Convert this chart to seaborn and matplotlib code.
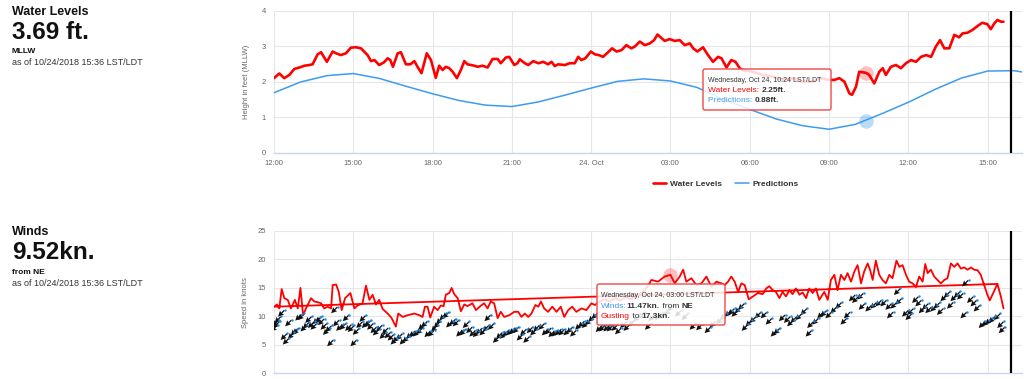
import numpy as np
import pandas as pd
import matplotlib
matplotlib.use("Agg")
import matplotlib.pyplot as plt
import seaborn as sns
from matplotlib import transforms
from matplotlib.patches import FancyBboxPatch

# ---------------- data (hours after 12:00, Oct 23) ----------------
tick_hours = [0, 3, 6, 9, 12, 15, 18, 21, 24, 27]
tick_labels = ["12:00", "15:00", "18:00", "21:00", "24. Oct",
               "03:00", "06:00", "09:00", "12:00", "15:00"]
now_hour = 27.88

level_hours = [0.0, 0.2, 0.39, 0.58, 0.77, 0.96, 1.15, 1.34, 1.46, 1.65, 1.78, 2.0, 2.22, 2.35,
               2.53, 2.72, 2.91, 3.1, 3.29, 3.54, 3.67, 3.8, 3.98, 4.17, 4.3, 4.4, 4.5, 4.68,
               4.8, 4.99, 5.16, 5.31, 5.43, 5.58, 5.78, 5.94, 6.12, 6.25, 6.38, 6.5, 6.63, 6.76,
               6.92, 7.07, 7.2, 7.32, 7.58, 7.7, 7.89, 8.08, 8.27, 8.46, 8.58, 8.77, 8.9, 9.09,
               9.21, 9.3, 9.49, 9.62, 9.81, 10.0, 10.19, 10.37, 10.5, 10.62, 10.75, 11.0, 11.19,
               11.38, 11.51, 11.63, 11.78, 11.99, 12.14, 12.29, 12.45, 12.64, 12.79, 12.96,
               13.15, 13.33, 13.52, 13.65, 13.84, 14.03, 14.22, 14.38, 14.51, 14.6, 14.78,
               14.97, 15.16, 15.35, 15.54, 15.73, 15.86, 16.02, 16.23, 16.42, 16.61, 16.8,
               16.93, 17.12, 17.3, 17.46, 17.62, 17.73, 18.11, 18.49, 18.87, 19.24, 19.62,
               20.0, 20.38, 20.63, 21.01, 21.2, 21.39, 21.58, 21.77, 21.87, 22.02, 22.14, 22.4,
               22.52, 22.71, 22.9, 23.03, 23.15, 23.34, 23.53, 23.72, 23.91, 24.1, 24.29,
               24.48, 24.67, 24.86, 25.04, 25.2, 25.36, 25.55, 25.74, 25.92, 26.05, 26.24,
               26.43, 26.62, 26.8, 26.99, 27.12, 27.25, 27.37, 27.5, 27.6]
level_ft = [2.10, 2.23, 2.10, 2.19, 2.36, 2.40, 2.45, 2.47, 2.49, 2.77, 2.83, 2.56, 2.85, 2.80,
            2.75, 2.80, 2.96, 2.97, 2.94, 2.75, 2.58, 2.61, 2.47, 2.55, 2.66, 2.61, 2.42, 2.80,
            2.83, 2.49, 2.49, 2.58, 2.42, 2.24, 2.80, 2.61, 2.11, 2.45, 2.33, 2.42, 2.38, 2.28,
            2.10, 2.33, 2.58, 2.49, 2.45, 2.42, 2.45, 2.40, 2.64, 2.64, 2.52, 2.68, 2.70, 2.47,
            2.52, 2.63, 2.52, 2.47, 2.58, 2.52, 2.56, 2.49, 2.56, 2.44, 2.49, 2.47, 2.52,
            2.52, 2.70, 2.61, 2.66, 2.85, 2.77, 2.75, 2.70, 2.83, 2.94, 2.85,
            2.89, 3.03, 2.94, 2.99, 3.13, 3.03, 3.08, 3.17, 3.33, 3.27, 3.15,
            3.20, 3.15, 3.17, 3.03, 3.08, 2.94, 2.85, 2.97, 2.75, 2.56, 2.70,
            2.66, 2.40, 2.61, 2.56, 2.38, 2.33, 2.28, 2.19, 2.14, 2.05, 2.10,
            2.00, 2.00, 2.10, 2.05, 2.05, 2.10, 2.00, 1.67, 1.63, 1.86, 2.28, 2.25,
            2.19, 1.95, 2.28, 2.38, 2.19, 2.42, 2.47, 2.38, 2.52, 2.61, 2.56,
            2.70, 2.75, 2.70, 2.99, 3.17, 2.94, 2.94, 3.32, 3.25, 3.36, 3.38,
            3.46, 3.57, 3.66, 3.62, 3.48, 3.64, 3.74, 3.69, 3.69]

pred_hours = list(range(0, 29)) + [28.5]
pred_ft = [1.69, 1.99, 2.17, 2.23, 2.09, 1.87, 1.66, 1.47, 1.34, 1.30, 1.43, 1.62, 1.82,
           2.01, 2.08, 2.02, 1.84, 1.50, 1.22, 0.95, 0.76, 0.66, 0.80, 1.10, 1.42, 1.78,
           2.10, 2.30, 2.31, 2.25]

# first gust sample is logged out of order (latest reading first)
gust_hours = [27.37, 0.01, 0.11, 0.2, 0.29, 0.39, 0.52, 0.64, 0.79, 0.9, 1.0, 1.1, 1.21, 1.4,
              1.53, 1.65, 1.78, 1.9, 2.03, 2.16, 2.22, 2.35, 2.45, 2.56, 2.69, 2.89, 3.04,
              3.16, 3.35, 3.48, 3.61, 3.73, 3.86, 3.98, 4.11, 4.3, 4.45, 4.61, 4.7, 4.87,
              5.05, 5.31, 5.5, 5.62, 5.71, 5.81, 5.91, 6.06, 6.19, 6.31, 6.42, 6.5, 6.63,
              6.72, 6.82, 6.95, 7.07, 7.2, 7.32, 7.51, 7.64, 7.83, 7.95, 8.08, 8.2, 8.33,
              8.46, 8.58, 8.71, 8.9, 9.09, 9.24, 9.36, 9.49, 9.62, 9.74, 9.89, 10.0, 10.1,
              10.22, 10.37, 10.53, 10.69, 10.85, 10.98, 11.13, 11.28, 11.44, 11.63, 11.82,
              12.01, 12.14, 12.3, 12.5, 12.7, 12.9, 13.1, 13.3, 13.5, 13.7, 13.9, 14.1,
              14.28, 14.53, 14.78, 15.0, 15.16, 15.35, 15.48, 15.6, 15.79, 15.98, 16.17,
              16.36, 16.55, 16.74, 16.93, 17.05, 17.18, 17.3, 17.43, 17.56, 17.68, 17.81,
              17.96, 18.12, 18.31, 18.49, 18.62, 18.74, 18.87, 18.99, 19.12, 19.24, 19.37,
              19.5, 19.62, 19.75, 19.88, 20.0, 20.13, 20.25, 20.38, 20.5, 20.63, 20.82,
              20.95, 21.07, 21.2, 21.32, 21.45, 21.58, 21.7, 21.83, 21.96, 22.08, 22.21,
              22.33, 22.46, 22.55, 22.65, 22.77, 22.9, 23.02, 23.15, 23.28, 23.4, 23.55,
              23.66, 23.78, 23.91, 24.03, 24.16, 24.29, 24.41, 24.54, 24.64, 24.73, 24.85,
              24.98, 25.1, 25.23, 25.36, 25.48, 25.61, 25.74, 25.86, 25.99, 26.11, 26.24,
              26.37, 26.49, 26.62, 26.74, 26.87, 26.99, 27.08, 27.21, 27.37, 27.5, 27.6]
gust_kn = [15.7, 11.7, 12.1, 11.4, 14.8, 13.2, 12.9, 11.4, 12.9, 11.4, 15.0, 10.2, 11.4, 13.2,
           12.6, 12.5, 12.3, 11.4, 11.7, 11.4, 15.5, 15.6, 14.3, 11.1, 13.2, 14.1, 11.4,
           11.9, 12.3, 15.4, 12.9, 13.8, 12.1, 12.9, 11.3, 10.5, 9.7, 8.2, 10.5, 9.9,
           10.2, 10.5, 10.2, 9.9, 11.7, 11.7, 9.8, 11.7, 11.1, 11.9, 11.8, 13.8, 14.1,
           15.0, 13.9, 13.2, 10.9, 12.1, 11.8, 12.3, 11.1, 11.9, 12.3, 11.4, 12.6, 12.3,
           9.7, 10.8, 9.9, 10.2, 10.8, 10.8, 9.9, 10.5, 9.9, 10.5, 12.0, 11.7, 12.6,
           11.4, 10.8, 11.7, 10.8, 11.7, 9.9, 11.1, 11.7, 10.8, 11.4, 11.1,
           12.3, 12.0, 12.5, 13.0, 12.6, 13.2, 12.8, 13.4, 13.0, 13.6, 14.2, 15.0,
           16.4, 16.1, 17.0, 17.3, 15.8, 17.0, 18.2, 16.1, 16.7, 15.5, 15.8,
           17.0, 15.2, 16.1, 15.8, 15.5, 16.1, 17.0, 16.1, 14.3, 15.8, 15.5,
           13.0, 13.5, 14.1, 13.9, 14.9, 15.3, 14.6, 14.3, 13.2, 14.3, 13.5,
           14.6, 13.9, 14.9, 13.8, 14.2, 13.2, 14.9, 14.1, 14.9, 12.9, 14.3,
           12.9, 16.4, 17.3, 14.6, 17.3, 16.4, 17.6, 16.1, 17.9, 19.0, 15.8,
           17.9, 19.3, 18.2, 16.4, 19.8, 17.3, 16.4, 15.8, 17.3, 16.7, 19.8,
           18.7, 19.0, 17.3, 16.1, 15.8, 15.2, 17.0, 16.1, 19.2, 17.6, 18.2,
           17.0, 16.4, 15.8, 16.4, 16.7, 19.3, 18.7, 19.3, 18.4, 18.6, 18.2,
           18.6, 18.2, 18.1, 17.3, 15.5, 13.8, 12.8, 14.1, 15.7, 13.5, 11.4]

wind_hours = [0.0, 0.05, 0.08, 0.14, 0.27, 0.37, 0.45, 0.54, 0.64, 0.75, 0.83, 0.92, 1.02, 1.12,
              1.21, 1.3, 1.4, 1.5, 1.59, 1.68, 1.78, 1.88, 1.97, 2.06, 2.13, 2.28, 2.35, 2.47,
              2.6, 2.72, 2.81, 2.91, 3.01, 3.1, 3.23, 3.35, 3.44, 3.54, 3.64, 3.77, 3.86,
              3.98, 4.11, 4.2, 4.3, 4.42, 4.53, 4.61, 4.74, 4.87, 4.99, 5.12, 5.24, 5.37,
              5.5, 5.58, 5.69, 5.81, 5.94, 6.06, 6.16, 6.25, 6.38, 6.5, 6.63, 6.76, 6.88,
              7.01, 7.14, 7.26, 7.39, 7.51, 7.64, 7.76, 7.89, 8.02, 8.08, 8.21, 8.4, 8.52,
              8.65, 8.77, 8.9, 9.02, 9.15, 9.3, 9.43, 9.55, 9.68, 9.81, 9.93, 10.12, 10.25,
              10.37, 10.5, 10.62, 10.75, 10.88, 11.07, 11.19, 11.32, 11.51, 11.63, 11.76,
              11.89, 12.01, 12.14, 12.29, 12.41, 12.58, 12.71, 12.89, 13.02, 13.21, 13.34,
              13.52, 13.71, 13.9, 14.15, 14.28, 14.53, 14.75, 14.9, 15.0, 15.29, 15.54,
              15.84, 16.09, 16.41, 16.6, 16.85, 17.0, 17.18, 17.3, 17.43, 17.55, 17.68,
              17.81, 17.96, 18.12, 18.31, 18.53, 18.72, 18.91, 19.03, 19.22, 19.41, 19.53,
              19.66, 19.85, 20.04, 20.23, 20.29, 20.48, 20.67, 20.8, 20.98, 21.17, 21.36,
              21.55, 21.68, 21.87, 21.99, 22.18, 22.24, 22.49, 22.68, 22.87, 23.06, 23.25,
              23.31, 23.44, 23.57, 23.63, 23.88, 24.01, 24.07, 24.26, 24.38, 24.51, 24.64,
              24.76, 24.95, 25.08, 25.2, 25.33, 25.46, 25.58, 25.71, 25.84, 25.96, 26.09,
              26.15, 26.34, 26.47, 26.59, 26.78, 26.91, 27.03, 27.16, 27.35, 27.48, 27.54]
wind_kn = [7.9, 8.8, 8.5, 9.4, 10.5, 6.4, 5.6, 8.8, 6.6, 7.2, 7.4, 9.8, 9.9, 7.9,
           8.4, 9.4, 8.5, 8.2, 9.2, 9.4, 9.0, 8.2, 7.3, 7.8, 5.3, 11.1, 8.8, 8.0,
           8.2, 9.7, 8.0, 7.8, 5.3, 7.3, 8.5, 9.6, 8.5, 8.7, 8.2, 7.6, 7.2,
           7.9, 6.6, 7.4, 6.7, 6.3, 5.6, 6.0, 6.4, 5.6, 6.0, 6.6, 6.9, 7.0,
           7.4, 8.2, 8.6, 6.9, 7.0, 7.9, 8.5, 9.2, 9.9, 10.2, 8.6, 9.0, 8.8,
           7.0, 7.2, 8.5, 7.6, 7.0, 6.9, 7.4, 7.2, 7.9, 9.7, 8.2, 5.9, 6.6,
           6.6, 7.0, 7.2, 7.4, 7.6, 6.3, 7.2, 5.9, 7.6, 7.2, 7.9, 8.2, 7.2,
           7.4, 6.9, 7.0, 7.2, 7.2, 7.2, 7.6, 7.0, 8.2, 8.6, 8.5,
           9.0, 9.6, 10.1, 7.8, 7.9, 7.9, 7.9, 8.0, 7.4, 8.5, 8.0,
           8.8, 9.6, 10.2, 8.2, 9.7, 9.9, 10.4, 10.8, 11.47, 10.5, 9.9,
           8.2, 8.1, 7.6, 8.6, 9.2, 9.9, 10.5, 10.8, 10.5, 11.1, 11.7,
           8.0, 8.8, 9.4, 10.2, 10.2, 9.1, 7.0, 7.4, 9.7, 9.4, 8.8,
           9.4, 9.9, 10.8, 7.0, 8.5, 9.1, 10.2, 10.5, 10.2, 11.1, 11.9,
           9.1, 10.2, 13.2, 12.9, 13.5, 11.7, 11.4, 11.9, 12.3, 12.3, 11.7,
           10.2, 11.9, 14.3, 12.6, 10.5, 9.9, 10.8, 12.9, 12.3, 11.1, 11.7,
           11.1, 11.4, 11.9, 10.8, 13.2, 13.8, 11.9, 13.2, 13.8, 13.5, 10.2,
           15.8, 12.9, 12.3, 11.4, 8.5, 8.8, 9.1, 9.4, 9.9, 8.5, 7.6]

tip1_hour, tip1_level, tip1_pred = 22.4, 2.25, 0.88
tip2_hour, tip2_wind, tip2_gust = 15.0, 11.47, 17.3

levels = pd.DataFrame({"hour": level_hours, "ft": level_ft})
preds = pd.DataFrame({"hour": pred_hours, "ft": pred_ft})
gusts = pd.DataFrame({"hour": gust_hours, "kn": gust_kn})
winds = pd.DataFrame({"hour": wind_hours, "kn": wind_kn})

# ---------------- style ----------------
sns.set_theme(style="whitegrid")
plt.rcParams["font.family"] = ["Liberation Sans", "DejaVu Sans"]
HEAD = ["Liberation Sans Narrow", "Liberation Sans", "DejaVu Sans"]
BODY = ["Liberation Sans", "DejaVu Sans"]

RED = "#ff0000"
BLUE = "#3d9bf0"
GRID = "#e6e6e6"
LABEL = "#666666"

W, H = 1024, 379
fig = plt.figure(figsize=(W / 100, H / 100), dpi=100)
px = transforms.Affine2D().scale(1 / W, -1 / H).translate(0, 1) + fig.transFigure

ax1 = fig.add_axes([274 / W, 1 - 152.7 / H, 748 / W, 142 / H])
ax2 = fig.add_axes([274 / W, 1 - 373.3 / H, 748 / W, 142.3 / H])


def style_axis(ax, ylim, yticks):
    ax.set_xlim(0, 28.3)
    ax.set_ylim(*ylim)
    ax.set_xticks(tick_hours)
    ax.set_yticks(yticks)
    ax.grid(True, color=GRID, lw=0.8)
    for side in ["left", "right", "top"]:
        ax.spines[side].set_visible(False)
    ax.spines["bottom"].set_color("#ccd6eb")
    ax.spines["bottom"].set_linewidth(1)
    ax.tick_params(axis="x", length=3, color="#ccd6eb", pad=2,
                   labelsize=5.5, labelcolor=LABEL)
    ax.tick_params(axis="y", length=0, pad=6, labelsize=5.5, labelcolor=LABEL)
    ax.set_xlabel("")


# ---------------- water levels ----------------
sns.lineplot(data=levels, x="hour", y="ft", ax=ax1, color=RED, lw=1.9,
             label="Water Levels", estimator=None)
sns.lineplot(data=preds, x="hour", y="ft", ax=ax1, color=BLUE, lw=1.1,
             label="Predictions", estimator=None)
sns.scatterplot(x=[tip1_hour], y=[tip1_level], ax=ax1, s=110, color=RED,
                alpha=0.25, linewidth=0, legend=False, zorder=4)
sns.scatterplot(x=[tip1_hour], y=[tip1_pred], ax=ax1, s=110, color=BLUE,
                alpha=0.35, linewidth=0, legend=False, zorder=4)
ax1.axvline(now_hour, color="black", lw=1.6, zorder=5)
style_axis(ax1, (0, 4), [0, 1, 2, 3, 4])
ax1.set_xticklabels(tick_labels)
ax1.set_ylabel("Height in feet (MLLW)", fontsize=5.5, color=LABEL)
ax1.yaxis.set_label_coords(-24 / 748, 0.5)
handles, labels = ax1.get_legend_handles_labels()
ax1.legend(handles, labels, loc="center", bbox_to_anchor=(0.604, -0.22), ncol=2,
           frameon=False, prop={"weight": "bold", "size": 6}, labelcolor="#333333",
           handlelength=1.6, columnspacing=1.6, handletextpad=0.5)

# ---------------- winds ----------------
sns.lineplot(data=gusts, x="hour", y="kn", ax=ax2, color=RED, lw=1.3,
             sort=False, estimator=None, legend=False)
ones = np.ones(len(winds))
ax2.quiver(winds["hour"], winds["kn"], -ones, -ones, pivot="middle", angles="uv",
           scale_units="inches", scale=16, width=0.0017, headwidth=4.5,
           headlength=4.5, headaxislength=4, color="#111111", zorder=3)
dot_tr = transforms.offset_copy(ax2.transData, fig=fig, x=3.5, y=3.5, units="dots")
sns.scatterplot(data=winds, x="hour", y="kn", ax=ax2, s=3, color="#1e88e5",
                linewidth=0, legend=False, transform=dot_tr, zorder=4)
sns.scatterplot(x=[tip2_hour], y=[tip2_gust], ax=ax2, s=110, color=RED,
                alpha=0.25, linewidth=0, legend=False, zorder=4)
ax2.axvline(now_hour, color="black", lw=1.6, zorder=5)
style_axis(ax2, (0, 25), [0, 5, 10, 15, 20, 25])
ax2.tick_params(axis="x", labelbottom=False)
ax2.set_ylabel("Speed in knots", fontsize=5.5, color=LABEL)
ax2.yaxis.set_label_coords(-25 / 748, 0.5)


# ---------------- left headings ----------------
def head(x, y, s, size, weight="bold", color="#111111", family=HEAD):
    fig.text(x, y, s, transform=px, fontsize=size, fontweight=weight,
             color=color, family=family, va="baseline", ha="left")


head(12, 15, "Water Levels", 9)
head(12, 39, f"{level_ft[-1]:.2f} ft.", 17.5, family=BODY)
head(12, 53, "MLLW", 6)
head(12, 65, "as of 10/24/2018 15:36 LST/LDT", 6.5, weight="normal",
     color="#333333", family=BODY)
head(12, 235, "Winds", 9)
head(12, 259, "9.52kn.", 17.5, family=BODY)
head(12, 274, "from NE", 6)
head(12, 286, "as of 10/24/2018 15:36 LST/LDT", 6.5, weight="normal",
     color="#333333", family=BODY)

# ---------------- tooltips ----------------
renderer = fig.canvas.get_renderer()


def rich(x, y, parts, size=6):
    for s, color, weight in parts:
        t = fig.text(x, y, s, transform=px, fontsize=size, color=color,
                     fontweight=weight, va="baseline", ha="left", zorder=21)
        x += t.get_window_extent(renderer).width


def tooltip(x, y, w, h):
    box = FancyBboxPatch((x, y), w, h, boxstyle="round,pad=0,rounding_size=2",
                         transform=px, facecolor="white", alpha=0.85,
                         edgecolor="none", zorder=20)
    fig.add_artist(box)
    edge = FancyBboxPatch((x, y), w, h, boxstyle="round,pad=0,rounding_size=2",
                          transform=px, facecolor="none",
                          edgecolor="#f04848", lw=1, zorder=20)
    fig.add_artist(edge)


tooltip(703, 69, 128, 41)
rich(708, 81.5, [("Wednesday, Oct 24, 10:24 LST/LDT", "#333333", "normal")], size=5)
rich(708, 92, [("Water Levels: ", RED, "normal"), (f"{tip1_level}ft.", "#333333", "bold")])
rich(708, 102, [("Predictions: ", BLUE, "normal"), (f"{tip1_pred}ft.", "#333333", "bold")])

tooltip(597, 284, 128, 41)
rich(601, 297, [("Wednesday, Oct 24, 03:00 LST/LDT", "#333333", "normal")], size=5)
rich(601, 307.5, [("Winds:", BLUE, "normal"), (f"{tip2_wind}kn.", "#333333", "bold"),
                  (" from ", "#333333", "normal"), ("NE", "#333333", "bold")])
rich(601, 317.5, [("Gusting", RED, "normal"), (" to ", "#333333", "normal"),
                  (f"{tip2_gust}kn.", "#333333", "bold")])

fig.savefig("out.png", dpi=100)
